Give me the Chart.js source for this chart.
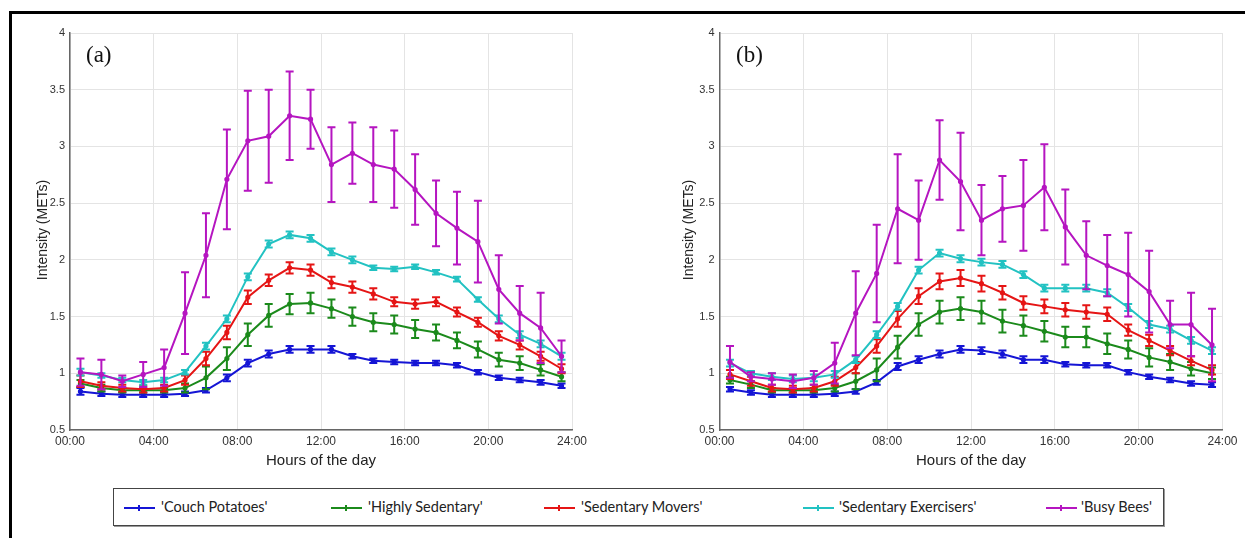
<!DOCTYPE html>
<html>
<head>
<meta charset="utf-8">
<script src="https://cdn.jsdelivr.net/npm/chart.js@4.4.1/dist/chart.umd.min.js"></script>
<style>
  html, body { margin:0; padding:0; background:#fff; width:1245px; height:538px; overflow:hidden; }
  #frame { position:absolute; left:9px; top:11px; width:1240px; height:540px; border-top:3px solid #000; border-left:3px solid #000; }
  canvas { position:absolute; }
  .panelTag { position:absolute; font-family:"Liberation Serif","DejaVu Serif",serif; font-size:23px; color:#111; }
  .xtitle { position:absolute; font-family:"Liberation Sans",Arial,sans-serif; font-size:15px; color:#222; width:200px; text-align:center; }
  .ytitle { position:absolute; font-family:"Liberation Sans",Arial,sans-serif; font-size:14px; color:#222; width:200px; text-align:center; transform:rotate(-90deg); transform-origin:center center; }
  #legend { position:absolute; left:113px; top:488px; width:1049px; height:36px; border:1.5px solid #444; box-shadow:1px 1px 0 #999; background:#fff; }
  .item { position:absolute; top:0; height:36px; line-height:36px; font-family:Lato,"Open Sans",sans-serif; font-size:14.5px; color:#222; white-space:nowrap; }
  .swatch { position:absolute; top:18px; width:31px; height:1.6px; }
  .swatch i { position:absolute; left:14px; top:-2px; width:1.6px; height:5.6px; }
</style>
</head>
<body>
<div id="frame"></div>
<canvas id="cA" width="622" height="480" style="left:0;top:0;width:622px;height:480px"></canvas>
<canvas id="cB" width="595" height="480" style="left:650px;top:0;width:595px;height:480px"></canvas>
<div class="panelTag" style="left:86px;top:42px">(a)</div>
<div class="panelTag" style="left:736px;top:42px">(b)</div>
<div class="xtitle" style="left:221px;top:451px">Hours of the day</div>
<div class="xtitle" style="left:871px;top:451px">Hours of the day</div>
<div class="ytitle" style="left:-58px;top:222px">Intensity (METs)</div>
<div class="ytitle" style="left:588px;top:222px">Intensity (METs)</div>
<div id="legend"></div>
<script>
// ---- data ----
const hours = [0.5,1.5,2.5,3.5,4.5,5.5,6.5,7.5,8.5,9.5,10.5,11.5,12.5,13.5,14.5,15.5,16.5,17.5,18.5,19.5,20.5,21.5,22.5,23.5];
const seriesNames = ["'Couch Potatoes'","'Highly Sedentary'","'Sedentary Movers'","'Sedentary Exercisers'","'Busy Bees'"];
const seriesColors = ["#1515d5","#1b8a1b","#e51515","#22c2c2","#b515c0"];
const xTicks = [0,4,8,12,16,20,24];
const yTicks = [0.5,1,1.5,2,2.5,3,3.5,4];

// panel (a) means
const couchA = [0.84,0.82,0.81,0.81,0.81,0.82,0.85,0.96,1.09,1.17,1.21,1.21,1.21,1.15,1.11,1.10,1.09,1.09,1.07,1.01,0.96,0.94,0.92,0.89];
const highlyA = [0.91,0.87,0.85,0.85,0.85,0.87,0.96,1.13,1.34,1.51,1.61,1.62,1.57,1.50,1.45,1.43,1.39,1.36,1.29,1.21,1.12,1.09,1.03,0.97];
const moversA = [0.93,0.89,0.87,0.86,0.87,0.94,1.13,1.36,1.67,1.82,1.93,1.91,1.80,1.76,1.70,1.63,1.61,1.63,1.54,1.45,1.33,1.25,1.15,1.04];
const exercA = [1.01,0.98,0.94,0.92,0.94,1.01,1.24,1.48,1.85,2.14,2.22,2.19,2.07,2.00,1.93,1.92,1.94,1.89,1.83,1.65,1.48,1.34,1.26,1.15];
const beesA = [1.01,0.99,0.93,0.99,1.05,1.53,2.04,2.71,3.05,3.09,3.27,3.24,2.84,2.94,2.84,2.80,2.62,2.41,2.28,2.16,1.74,1.53,1.40,1.15];
// panel (a) error half-widths
const couchAErr = [0.03,0.02,0.02,0.02,0.02,0.02,0.02,0.03,0.03,0.03,0.03,0.03,0.03,0.02,0.02,0.02,0.02,0.02,0.02,0.02,0.02,0.02,0.02,0.02];
const highlyAErr = [0.03,0.03,0.02,0.02,0.02,0.04,0.10,0.10,0.10,0.10,0.09,0.09,0.08,0.08,0.08,0.08,0.08,0.07,0.07,0.07,0.06,0.06,0.05,0.04];
const moversAErr = [0.05,0.03,0.03,0.03,0.03,0.04,0.06,0.06,0.06,0.05,0.05,0.05,0.05,0.05,0.05,0.04,0.04,0.04,0.04,0.04,0.04,0.04,0.04,0.04];
const exercAErr = [0.03,0.02,0.02,0.02,0.02,0.02,0.03,0.03,0.03,0.03,0.03,0.03,0.03,0.03,0.02,0.02,0.02,0.02,0.02,0.02,0.03,0.03,0.03,0.03];
const beesAErr = [0.12,0.13,0.05,0.11,0.16,0.36,0.37,0.44,0.44,0.41,0.39,0.26,0.33,0.27,0.33,0.34,0.31,0.29,0.32,0.36,0.30,0.24,0.31,0.14];

// panel (b) means
const couchB = [0.86,0.83,0.81,0.81,0.81,0.82,0.84,0.92,1.06,1.12,1.17,1.21,1.20,1.17,1.12,1.12,1.08,1.07,1.07,1.01,0.97,0.94,0.91,0.90];
const highlyB = [0.94,0.90,0.85,0.85,0.85,0.87,0.93,1.03,1.23,1.43,1.54,1.57,1.54,1.46,1.42,1.37,1.32,1.32,1.26,1.21,1.14,1.10,1.04,1.00];
const moversB = [0.99,0.93,0.87,0.86,0.87,0.93,1.05,1.24,1.48,1.68,1.81,1.84,1.79,1.71,1.62,1.59,1.56,1.54,1.52,1.38,1.29,1.20,1.11,1.03];
const exercB = [1.09,1.00,0.97,0.95,0.96,0.99,1.12,1.34,1.59,1.91,2.06,2.01,1.98,1.96,1.87,1.75,1.75,1.75,1.71,1.58,1.43,1.39,1.29,1.20];
const beesB = [1.10,0.97,0.95,0.93,0.96,1.09,1.53,1.88,2.45,2.35,2.88,2.69,2.35,2.45,2.48,2.64,2.29,2.04,1.95,1.87,1.72,1.43,1.43,1.25];
// panel (b) error half-widths
const couchBErr = [0.02,0.02,0.02,0.02,0.02,0.02,0.02,0.02,0.03,0.03,0.03,0.03,0.03,0.03,0.03,0.03,0.02,0.02,0.02,0.02,0.02,0.02,0.02,0.02];
const highlyBErr = [0.03,0.03,0.02,0.02,0.02,0.03,0.07,0.10,0.10,0.10,0.10,0.10,0.10,0.10,0.09,0.09,0.09,0.09,0.09,0.08,0.08,0.07,0.06,0.05];
const moversBErr = [0.04,0.04,0.03,0.03,0.03,0.04,0.05,0.06,0.07,0.07,0.07,0.07,0.07,0.06,0.06,0.06,0.06,0.06,0.06,0.05,0.05,0.04,0.04,0.04];
const exercBErr = [0.03,0.02,0.03,0.03,0.03,0.03,0.03,0.03,0.03,0.03,0.03,0.03,0.03,0.03,0.03,0.03,0.03,0.03,0.03,0.03,0.03,0.03,0.03,0.03];
const beesBErr = [0.14,0.04,0.05,0.06,0.06,0.18,0.37,0.43,0.48,0.35,0.35,0.43,0.31,0.29,0.40,0.38,0.33,0.30,0.27,0.37,0.36,0.21,0.28,0.32];

// ---- error bar plugin (uses the chart's own scales) ----
const errorBars = {
  id: 'errorBars',
  beforeDatasetDraw(chart, args) {
    const ds = chart.data.datasets[args.index];
    const meta = args.meta;
    const ys = chart.scales.y;
    const ctx = chart.ctx;
    ctx.save();
    ctx.strokeStyle = ds.borderColor;
    ctx.lineWidth = 2;
    ctx.lineCap = 'butt';
    meta.data.forEach((pt, i) => {
      const v = ds.data[i].y, e = ds.errors[i];
      const yt = ys.getPixelForValue(v + e), yb = ys.getPixelForValue(v - e);
      const x = pt.x, w = 4;
      ctx.beginPath();
      ctx.moveTo(x, yt); ctx.lineTo(x, yb);
      ctx.moveTo(x - w, yt); ctx.lineTo(x + w, yt);
      ctx.moveTo(x - w, yb); ctx.lineTo(x + w, yb);
      ctx.stroke();
    });
    ctx.restore();
  }
};

function makeDatasets(vals, errs) {
  return vals.map((arr, k) => ({
    label: seriesNames[k],
    data: hours.map((h, i) => ({ x: h, y: arr[i] })),
    errors: errs[k],
    borderColor: seriesColors[k],
    backgroundColor: seriesColors[k],
    borderWidth: 2,
    pointRadius: 1.6,
    pointHoverRadius: 1.6,
    tension: 0,
    order: 5 - k
  }));
}

function makeChart(id, vals, errs, yWidth, padRight) {
  return new Chart(document.getElementById(id), {
    type: 'line',
    data: { datasets: makeDatasets(vals, errs) },
    options: {
      responsive: false,
      animation: false,
      devicePixelRatio: window.devicePixelRatio || 1,
      layout: { padding: { left: 0, right: padRight, top: 33, bottom: 0 } },
      plugins: { legend: { display: false }, tooltip: { enabled: false } },
      scales: {
        x: {
          type: 'linear', min: 0, max: 24,
          afterBuildTicks: s => { s.ticks = xTicks.map(v => ({ value: v })); },
          afterFit: s => { s.height = 50; },
          ticks: {
            padding: 4, color: '#333',
            font: { family: '"Liberation Sans", Arial, sans-serif', size: 12 },
            maxRotation: 0, autoSkip: false,
            callback: v => String(v).padStart(2, '0') + ':00'
          },
          grid: { color: '#e4e4e4', lineWidth: 1, drawTicks: false },
          border: { color: '#666', width: 1.5 }
        },
        y: {
          min: 0.5, max: 4,
          afterBuildTicks: s => { s.ticks = yTicks.map(v => ({ value: v })); },
          afterFit: s => { s.width = yWidth; },
          ticks: {
            padding: 5, color: '#333',
            font: { family: '"Liberation Sans", Arial, sans-serif', size: 11 },
            callback: v => String(v)
          },
          grid: { color: '#e4e4e4', lineWidth: 1, drawTicks: false },
          border: { color: '#666', width: 1.5 }
        }
      }
    },
    plugins: [errorBars]
  });
}

makeChart('cA', [couchA, highlyA, moversA, exercA, beesA], [couchAErr, highlyAErr, moversAErr, exercAErr, beesAErr], 70, 50);
makeChart('cB', [couchB, highlyB, moversB, exercB, beesB], [couchBErr, highlyBErr, moversBErr, exercBErr, beesBErr], 69.5, 22.5);

// ---- legend ----
const legendPos = [{ l: 10, t: 47 }, { l: 217, t: 254 }, { l: 430, t: 467 }, { l: 689, t: 725 }, { l: 932, t: 967 }];
const lg = document.getElementById('legend');
seriesNames.forEach((n, k) => {
  const sw = document.createElement('div');
  sw.className = 'swatch';
  sw.style.left = legendPos[k].l + 'px';
  sw.style.background = seriesColors[k];
  const tk = document.createElement('i');
  tk.style.background = seriesColors[k];
  sw.appendChild(tk);
  lg.appendChild(sw);
  const t = document.createElement('div');
  t.className = 'item';
  t.style.left = legendPos[k].t + 'px';
  t.textContent = n;
  lg.appendChild(t);
});
</script>
</body>
</html>
